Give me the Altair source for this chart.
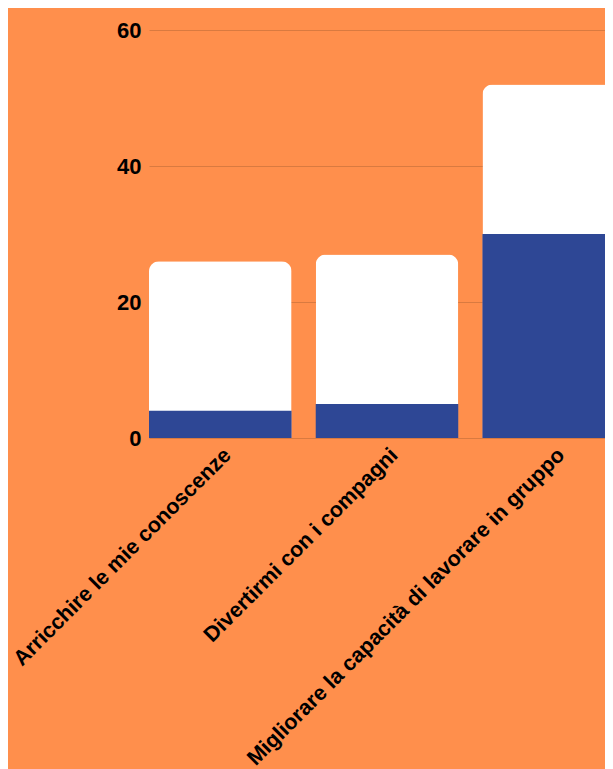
import altair as alt
import pandas as pd

categories = ["Arricchire le mie conoscenze", "Divertirmi con i compagni", "Migliorare la capacità di lavorare in gruppo"]
totals = [26, 27, 52]
highlighted = [4, 5, 30]

df = pd.DataFrame({"cat": categories, "total": totals, "part": highlighted})

BG = "#FF8F4C"
BLUE = "#2E4795"

x = alt.X("cat:N", sort=categories, title=None,
          scale=alt.Scale(paddingInner=0.145, paddingOuter=0, range=[1, 477]),
          axis=alt.Axis(labelAngle=-45, labelFontSize=21.5, labelFontWeight="bold",
                        labelColor="#000000", labelFont="Liberation Sans",
                        ticks=False, domain=False, labelPadding=6, labelLimit=0))
y_axis = alt.Axis(values=[0, 20, 40, 60], labelFontSize=22, labelFontWeight="bold",
                  labelColor="#000000", labelFont="Liberation Sans",
                  ticks=False, domain=False, grid=True, gridColor="#D97A40",
                  gridWidth=1, labelPadding=7)

white = alt.Chart(df).mark_bar(color="#FFFFFF", cornerRadiusTopLeft=10, cornerRadiusTopRight=10).encode(
    x=x,
    y=alt.Y("total:Q", title=None, scale=alt.Scale(domain=[0, 60]), axis=y_axis),
)
blue = alt.Chart(df).mark_bar(color=BLUE).encode(
    x=x,
    y=alt.Y("part:Q"),
)

chart = alt.layer(white, blue).properties(
    width=457, height=408, background=BG,
    autosize=alt.AutoSizeParams(type="none"),
    padding={"top": 22, "left": 140, "right": 0, "bottom": 340},
).configure_view(stroke=None)

chart.save("out.html", embed_options={"renderer": "svg", "actions": False})
